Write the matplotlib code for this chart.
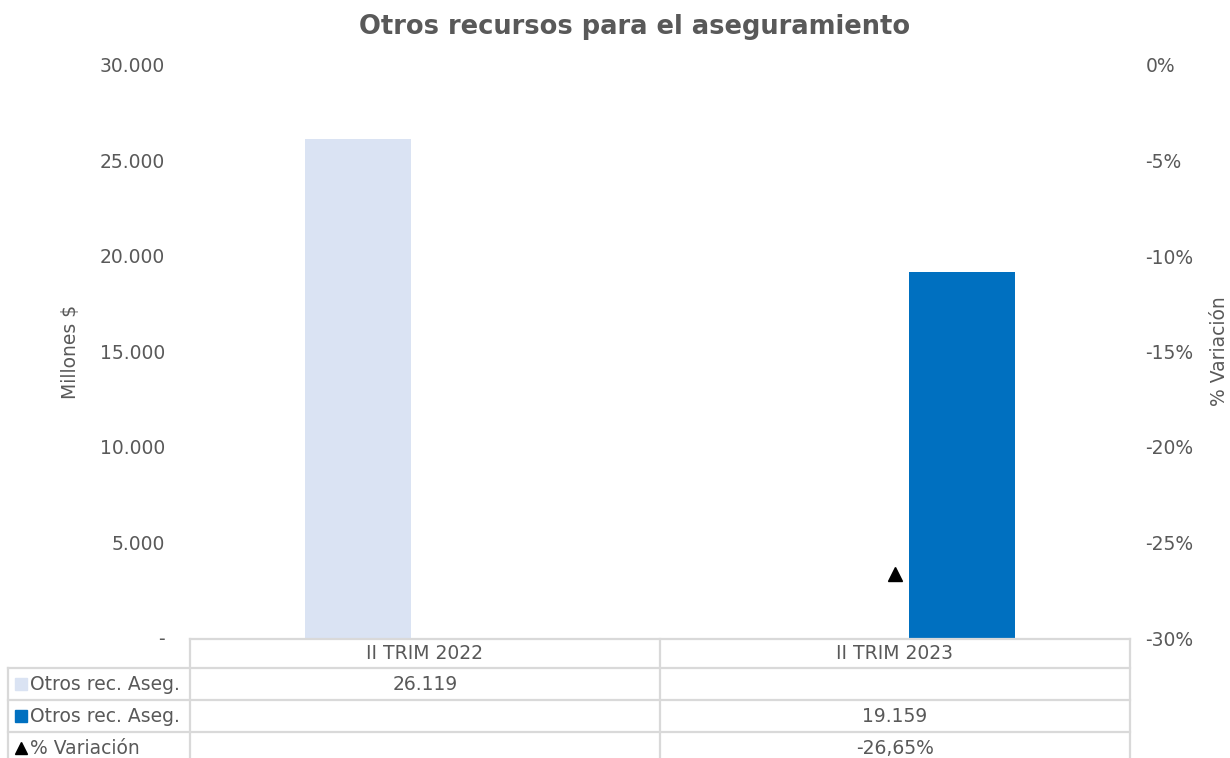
"""Otros recursos para el aseguramiento: bars with a data table below."""

import matplotlib.pyplot as plt
import matplotlib.transforms as mtransforms
from matplotlib.lines import Line2D
import numpy as np

CATEGORIES = ["II TRIM 2022", "II TRIM 2023"]
SERIES_NAMES = ["Otros rec. Aseg.", "Otros rec. Aseg.", "% Variación"]
VALUES_2022 = [26119, np.nan]
VALUES_2023 = [np.nan, 19159]
VARIATION = [np.nan, -0.2665]
LEFT_TICKS = [0, 5000, 10000, 15000, 20000, 25000, 30000]
RIGHT_TICKS = [-0.30, -0.25, -0.20, -0.15, -0.10, -0.05, 0.0]

LIGHT = "#dae3f3"
BLUE = "#0070c0"
GRAY = "#595959"
BORDER = "#d9d9d9"
W, H = 1230, 758
FS = 13.5


def fmt_thousands(v):
    if v == 0:
        return "-"
    return f"{v:,.0f}".replace(",", ".")


def fmt_pct(v, decimals=0):
    return f"{v * 100:.{decimals}f}%".replace(".", ",")


fig = plt.figure(figsize=(W / 100, H / 100), dpi=100)
ax = fig.add_axes([190 / W, 1 - 638 / H, 940 / W, 573 / H])
ax2 = ax.twinx()

x = np.arange(len(CATEGORIES))
bar_w = 0.2255
offset = 0.1426
ax.bar(x - offset, VALUES_2022, width=bar_w, color=LIGHT, zorder=2)
ax.bar(x + offset, VALUES_2023, width=bar_w, color=BLUE, zorder=2)
ax2.plot(x, VARIATION, linestyle="none", marker="^", color="black",
         markersize=10, zorder=3)

ax.set_xlim(-0.5, len(CATEGORIES) - 0.5)
ax.set_ylim(0, 30000)
ax2.set_ylim(-0.30, 0.0)
ax.set_yticks(LEFT_TICKS)
ax.set_yticklabels([fmt_thousands(v) for v in LEFT_TICKS])
ax2.set_yticks(RIGHT_TICKS)
ax2.set_yticklabels([fmt_pct(v) for v in RIGHT_TICKS])
ax.set_xticks([])

for a in (ax, ax2):
    for s in a.spines.values():
        s.set_visible(False)
    a.tick_params(axis="y", length=0, labelsize=FS, labelcolor=GRAY)
ax.tick_params(axis="y", pad=18)
ax2.tick_params(axis="y", pad=11)

ax.set_ylabel("Millones $", fontsize=FS, color=GRAY)
ax2.set_ylabel("% Variación", fontsize=FS, color=GRAY)
ax.yaxis.set_label_coords((80 - 190) / 940, 0.5)
ax2.yaxis.set_label_coords((1210 - 190) / 940, 0.5)
fig.text(635 / W, 1 - 27 / H, "Otros recursos para el aseguramiento",
         ha="center", va="center", fontsize=18.5, fontweight="bold", color=GRAY)

# data table below the plot
tr = mtransforms.blended_transform_factory(ax.transData, fig.transFigure)
row_y = [639, 668, 700, 732, 764]
fy = [1 - y / H for y in row_y]
edges = np.arange(len(CATEGORIES) + 1) - 0.5
left_fx = 8 / W
line_kw = dict(color=BORDER, linewidth=1.6, clip_on=False)

for i, y in enumerate(fy):
    if i == 0:
        fig.add_artist(Line2D([edges[0], edges[-1]], [y, y], transform=tr, **line_kw))
    else:
        fig.add_artist(Line2D([left_fx, 1130 / W], [y, y],
                              transform=fig.transFigure, **line_kw))
for e in edges:
    fig.add_artist(Line2D([e, e], [fy[0], fy[-1]], transform=tr, **line_kw))
fig.add_artist(Line2D([left_fx, left_fx], [fy[1], fy[-1]],
                      transform=fig.transFigure, **line_kw))

text_kw = dict(ha="center", va="center", fontsize=FS, color=GRAY)
for xi, cat in zip(x, CATEGORIES):
    fig.text(xi, (fy[0] + fy[1]) / 2, cat, transform=tr, **text_kw)

rows = [
    [fmt_thousands(v) if not np.isnan(v) else "" for v in VALUES_2022],
    [fmt_thousands(v) if not np.isnan(v) else "" for v in VALUES_2023],
    [fmt_pct(v, 2) if not np.isnan(v) else "" for v in VARIATION],
]
markers = [("s", LIGHT), ("s", BLUE), ("^", "black")]
for r, (labels, name, (mk, mc)) in enumerate(zip(rows, SERIES_NAMES, markers)):
    yc = (fy[r + 1] + fy[r + 2]) / 2
    for xi, lab in zip(x, labels):
        fig.text(xi, yc, lab, transform=tr, **text_kw)
    fig.add_artist(Line2D([21 / W], [yc], marker=mk, color=mc, markersize=8,
                          linestyle="none", transform=fig.transFigure))
    fig.text(30 / W, yc, name, ha="left", va="center", fontsize=FS, color=GRAY)

fig.savefig("out.png", dpi=100)
